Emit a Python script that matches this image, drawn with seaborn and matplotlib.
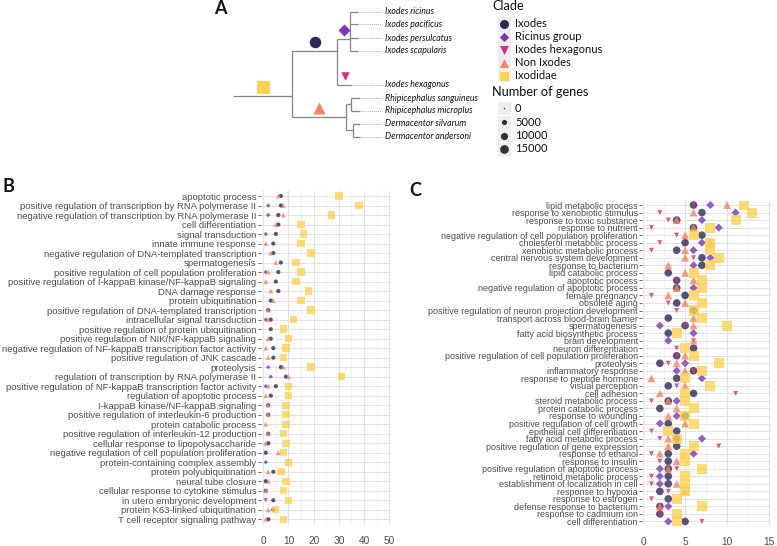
import numpy as np
import pandas as pd
import matplotlib
matplotlib.use("Agg")
import matplotlib.pyplot as plt
import seaborn as sns
from matplotlib.ticker import MultipleLocator
from matplotlib.patches import Rectangle

sns.set_theme(style="white")
plt.rcParams["font.family"] = ["Liberation Sans", "DejaVu Sans"]

nan = np.nan

# ---------------- clades ----------------
clades = ["Ixodes", "Ricinus group", "Ixodes hexagonus", "Non Ixodes", "Ixodidae"]
clade_colors = ["#2c2a5c", "#7b37bb", "#d62f7c", "#f9825c", "#fdd24f"]
clade_markers = ["o", "D", "v", "^", "s"]

# ---------------- panel B ----------------
terms_b = [
    "apoptotic process",
    "positive regulation of transcription by RNA polymerase II",
    "negative regulation of transcription by RNA polymerase II",
    "cell differentiation",
    "signal transduction",
    "innate immune response",
    "negative regulation of DNA-templated transcription",
    "spermatogenesis",
    "positive regulation of cell population proliferation",
    "positive regulation of I-kappaB kinase/NF-kappaB signaling",
    "DNA damage response",
    "protein ubiquitination",
    "positive regulation of DNA-templated transcription",
    "intracellular signal transduction",
    "positive regulation of protein ubiquitination",
    "positive regulation of NIK/NF-kappaB signaling",
    "negative regulation of NF-kappaB transcription factor activity",
    "positive regulation of JNK cascade",
    "proteolysis",
    "regulation of transcription by RNA polymerase II",
    "positive regulation of NF-kappaB transcription factor activity",
    "regulation of apoptotic process",
    "I-kappaB kinase/NF-kappaB signaling",
    "positive regulation of interleukin-6 production",
    "protein catabolic process",
    "positive regulation of interleukin-12 production",
    "cellular response to lipopolysaccharide",
    "negative regulation of cell population proliferation",
    "protein-containing complex assembly",
    "protein polyubiquitination",
    "neural tube closure",
    "cellular response to cytokine stimulus",
    "in utero embryonic development",
    "protein K63-linked ubiquitination",
    "T cell receptor signaling pathway",
]
b_ixodes = [7, 7, 6, 6, 5, 4, 4, 7, 6, 5, 6, 3, 2, 3, 3, 3, 4, 4, 7, 9, 5, 3, 2, 2, nan, 2, 2, 1, nan, 4, 1, 1, 4, 4, 2]
b_ricinus = [nan, 2, 2, nan, 1, nan, nan, nan, 1, nan, nan, nan, nan, 1, nan, nan, nan, nan, 2, 3, 1, nan, nan, nan, nan, nan, nan, nan, 1, nan, nan, nan, nan, nan, nan]
b_hexagonus = [nan] * 32 + [1, nan, nan]
b_nonixodes = [6, 8, 8, 5, nan, 1, 3, 5, 2, 1, 3, 4, 2, 2, nan, 2, 1, 2, 8, 10, 2, 1, 2, 2, 1, 2, 1, 6, nan, 2, 2, 1, nan, 2, 1]
b_ixodidae = [30, 38, 27, 15, 16, 15, 19, 13, 15, 13, 18, 15, 19, 12, 8, 10, 9, 8, 19, 31, 10, 10, 9, 9, 9, 8, 9, 8, 10, 7, 9, 8, 10, 5, 8]

# ---------------- panel C ----------------
terms_c = [
    "lipid metabolic process",
    "response to xenobiotic stimulus",
    "response to toxic substance",
    "response to nutrient",
    "negative regulation of cell population proliferation",
    "cholesterol metabolic process",
    "xenobiotic metabolic process",
    "central nervous system development",
    "response to bacterium",
    "lipid catabolic process",
    "apoptotic process",
    "negative regulation of apoptotic process",
    "female pregnancy",
    "obsolete aging",
    "positive regulation of neuron projection development",
    "transport across blood-brain barrier",
    "spermatogenesis",
    "fatty acid biosynthetic process",
    "brain development",
    "neuron differentiation",
    "positive regulation of cell population proliferation",
    "proteolysis",
    "inflammatory response",
    "response to peptide hormone",
    "visual perception",
    "cell adhesion",
    "steroid metabolic process",
    "protein catabolic process",
    "response to wounding",
    "positive regulation of cell growth",
    "epithelial cell differentiation",
    "fatty acid metabolic process",
    "positive regulation of gene expression",
    "response to ethanol",
    "response to insulin",
    "positive regulation of apoptotic process",
    "retinoid metabolic process",
    "establishment of localization in cell",
    "response to hypoxia",
    "response to estrogen",
    "defense response to bacterium",
    "response to cadmium ion",
    "cell differentiation",
]
c_ixodes = [6, 7, 4, 6, 7, 5, 4, 7, 7, 3, 4, 4, 5, 4, 6, 3, 5, 3, nan, 6, 4, 2, 6, 4, 3, 6, 3, 2, 5, 3, 4, 4, 4, 3, 3, 3, 3, 3, 2, 3, 2, 2, 5]
c_ricinus = [8, 11, 7, 9, nan, 7, 6, 8, 6, nan, nan, 6, nan, nan, nan, nan, 2, 6, 3, nan, nan, 5, 4, 7, nan, nan, 4, nan, 4, 2, nan, 7, nan, 6, nan, 2, 2, 2, nan, nan, 3, nan, 3]
c_hexagonus = [6, 2, 3, 1, 4, 2, 1, 6, nan, nan, 4, 4, 1, 3, 4, nan, 5, nan, 6, 4, 4, 3, 6, nan, 4, 11, 1, nan, nan, nan, 1, 2, 9, 1, 2, 4, 1, 1, 3, 1, nan, 2, 7]
c_nonixodes = [10, 6, 4, 6, 5, 8, 5, 5, 3, 5, 6, 4, 3, 5, nan, 6, 6, nan, 6, nan, 5, 4, 5, 1, 5, 2, 3, 4, 3, 5, nan, 3, 3, 2, 4, 3, nan, 4, 5, nan, 2, nan, nan]
c_ixodidae = [12, 13, 11, 8, 6, 8, 8, 9, 8, 6, 7, 7, 6, 7, 6, 7, 10, 4, nan, 5, 6, 9, 7, 5, 8, 5, 5, 6, 5, 6, 3, 4, 6, 5, 5, 7, 5, 5, 5, 4, 7, 4, 4]

# ---------------- tree (panel A) ----------------
tip_names = ["Ixodes ricinus", "Ixodes pacificus", "Ixodes persulcatus", "Ixodes scapularis",
             "Ixodes hexagonus", "Rhipicephalus sanguineus", "Rhipicephalus microplus",
             "Dermacentor silvarum", "Dermacentor andersoni"]
tip_rows = [0, 1, 2.1, 3.07, 5.77, 6.82, 7.8, 8.84, 9.84]
tip_depth = [125, 125, 125, 125, 119, 127, 127, 127, 127]
node_depth = {"root": 59, "Ixodes": 104, "Ricinus": 117, "NonIx": 112.7, "Rhip": 118, "Derm": 119.7}
node_row = {"root": 6.64, "Ixodes": 3.1, "Ricinus": 2.17, "NonIx": 8.31, "Rhip": 7.27, "Derm": 9.31}
node_children = {
    "root": ["Ixodes", "NonIx"],
    "Ixodes": ["Ricinus", 4],
    "Ricinus": [0, 1, 2, 3],
    "NonIx": ["Rhip", "Derm"],
    "Rhip": [5, 6],
    "Derm": [7, 8],
}
dotted_end = 148.7
clade_branch = {"Ixodidae": "root", "Ixodes": "Ixodes", "Ricinus group": "Ricinus",
                "Ixodes hexagonus": 4, "Non Ixodes": "NonIx"}
clade_tree_size = {"Ixodidae": 13, "Ixodes": 11.5, "Ricinus group": 8.5,
                   "Ixodes hexagonus": 8.5, "Non Ixodes": 12}

gene_levels = [0, 5000, 10000, 15000]

# ---------------- figure ----------------
W, H = 777, 546
fig = plt.figure(figsize=(W / 100, H / 100), dpi=100)

ax_t = fig.add_axes([0, 0, 1, 1])
ax_t.set_xlim(-233, W - 233)
ax_t.set_ylim((H - 11.7) / 12.7, -11.7 / 12.7)
ax_t.axis("off")

line_kw = dict(color="#858585", lw=0.9, solid_capstyle="butt")

def pos(n):
    if isinstance(n, int):
        return tip_depth[n], tip_rows[n]
    return node_depth[n], node_row[n]

def draw(n, parent_depth):
    d, r = pos(n)
    ax_t.plot([parent_depth, d], [r, r], **line_kw)
    if isinstance(n, int):
        ax_t.plot([d, dotted_end], [r, r], color="#b0b0b0", lw=0.7, ls=(0, (1, 1)))
        ax_t.text(dotted_end + 3.5, r, tip_names[n], fontsize=6.35, style="italic",
                  family=["Lato", "DejaVu Sans"], va="center", ha="left", color="#111111")
        return
    kids = node_children[n]
    rows = [pos(k)[1] for k in kids]
    ax_t.plot([d, d], [min(rows), max(rows)], **line_kw)
    for k in kids:
        draw(k, d)

draw("root", 0)

cmap = dict(zip(clades, clade_colors))
mmap = dict(zip(clades, clade_markers))
for cl, n in clade_branch.items():
    d, r = pos(n)
    if n == "root":
        pd_ = 0
    else:
        pd_ = [node_depth[p] for p, ks in node_children.items() if n in ks][0]
    xm = (pd_ + d) / 2
    ax_t.scatter([xm], [r - 0.72], marker=mmap[cl], s=(clade_tree_size[cl] * 0.72) ** 2,
                 color=cmap[cl], linewidths=0, zorder=5)

ax_o = fig.add_axes([0, 0, 1, 1])
ax_o.set_xlim(0, W)
ax_o.set_ylim(H, 0)
ax_o.axis("off")
ax_o.patch.set_alpha(0)

lfont = ["Lato", "DejaVu Sans"]
ax_o.text(492, 6, "Clade", fontsize=9.2, family=lfont, va="center", ha="left", color="#111111")
leg_rows = [23.5, 36.5, 49.5, 62.5, 75.5]
for cl, yy in zip(clades, leg_rows):
    ax_o.add_patch(Rectangle((497.5, yy - 6.5), 13, 13, color="#eeeeee", lw=0))
    ax_o.scatter([504], [yy], marker=mmap[cl], s=(9 * 0.72) ** 2 if mmap[cl] != "D" else (6.5 * 0.72) ** 2,
                 color=cmap[cl], linewidths=0, zorder=5)
    ax_o.text(515, yy, cl, fontsize=8.0, family=lfont, va="center", ha="left", color="#111111")
ax_o.text(492, 92, "Number of genes", fontsize=9.2, family=lfont, va="center", ha="left", color="#111111")
size_rows = [108, 122, 135.5, 149]
size_px = [1.5, 5.2, 7.2, 8.7]
for g, yy, sp in zip(gene_levels, size_rows, size_px):
    ax_o.add_patch(Rectangle((497.5, yy - 6.5), 13, 13, color="#eeeeee", lw=0))
    ax_o.scatter([504], [yy], marker="o", s=(sp * 0.72) ** 2, color="#333333", linewidths=0, zorder=5)
    ax_o.text(515, yy, f"{g}", fontsize=8.0, family=lfont, va="center", ha="left", color="#111111")

for lab, xx, yy in [("A", 214, 8), ("B", 2, 187), ("C", 409, 190)]:
    ax_o.text(xx, yy, lab, fontsize=13, fontweight="bold", family=lfont, va="center", ha="left", color="#111111")


def long_df(terms, cols):
    recs = []
    for cl, vals in zip(clades, cols):
        for i, v in enumerate(vals):
            if not np.isnan(v):
                recs.append({"term": terms[i], "row": i, "clade": cl, "value": v})
    return pd.DataFrame(recs)


def panel(rect, terms, cols, sizes, xlim, major, minor, fs):
    ax = fig.add_axes(rect)
    df = long_df(terms, cols)
    sns.scatterplot(data=df, x="value", y="row", hue="clade", style="clade", size="clade",
                    hue_order=clades, style_order=clades, size_order=clades,
                    palette=cmap, markers=mmap, sizes=sizes, alpha=0.8, linewidth=0,
                    legend=False, ax=ax, zorder=3)
    ax.set_facecolor("white")
    ax.set_xlim(*xlim)
    ax.set_ylim(len(terms) - 0.4, -0.6)
    ax.set_yticks(range(len(terms)))
    ax.set_yticklabels(terms)
    ax.xaxis.set_major_locator(MultipleLocator(major))
    ax.xaxis.set_minor_locator(MultipleLocator(minor))
    ax.set_xlabel("")
    ax.set_ylabel("")
    for s in ax.spines.values():
        s.set_visible(False)
    ax.grid(which="major", color="#e3e3e3", lw=0.8, zorder=0)
    ax.grid(which="minor", axis="x", color="#efefef", lw=0.5, zorder=0)
    ax.tick_params(axis="y", which="major", length=2.2, width=0.6, color="#555555",
                   labelsize=fs, labelcolor="#4d4d4d", pad=1, left=True)
    ax.tick_params(axis="x", which="both", length=0, labelsize=7.3, labelcolor="#4d4d4d", pad=8)
    return ax

def fr(x0, x1, y0, y1):
    return [x0 / W, 1 - y1 / H, (x1 - x0) / W, (y1 - y0) / H]

sizes_b = {"Ixodes": 9, "Ricinus group": 5, "Ixodes hexagonus": 10, "Non Ixodes": 12, "Ixodidae": 28}
sizes_c = {"Ixodes": 30, "Ricinus group": 17, "Ixodes hexagonus": 13, "Non Ixodes": 32, "Ixodidae": 52}

ax_b = panel(fr(260.7, 390.5, 190.3, 525), terms_b,
             [b_ixodes, b_ricinus, b_hexagonus, b_nonixodes, b_ixodidae],
             sizes_b, (-1, 50.5), 10, 5, 6.8)
ax_c = panel(fr(642.2, 770.5, 200.5, 526), terms_c,
             [c_ixodes, c_ricinus, c_hexagonus, c_nonixodes, c_ixodidae],
             sizes_c, (-0.1, 15.15), 5, 2.5, 6.5)

fig.savefig("out.png", dpi=100)
